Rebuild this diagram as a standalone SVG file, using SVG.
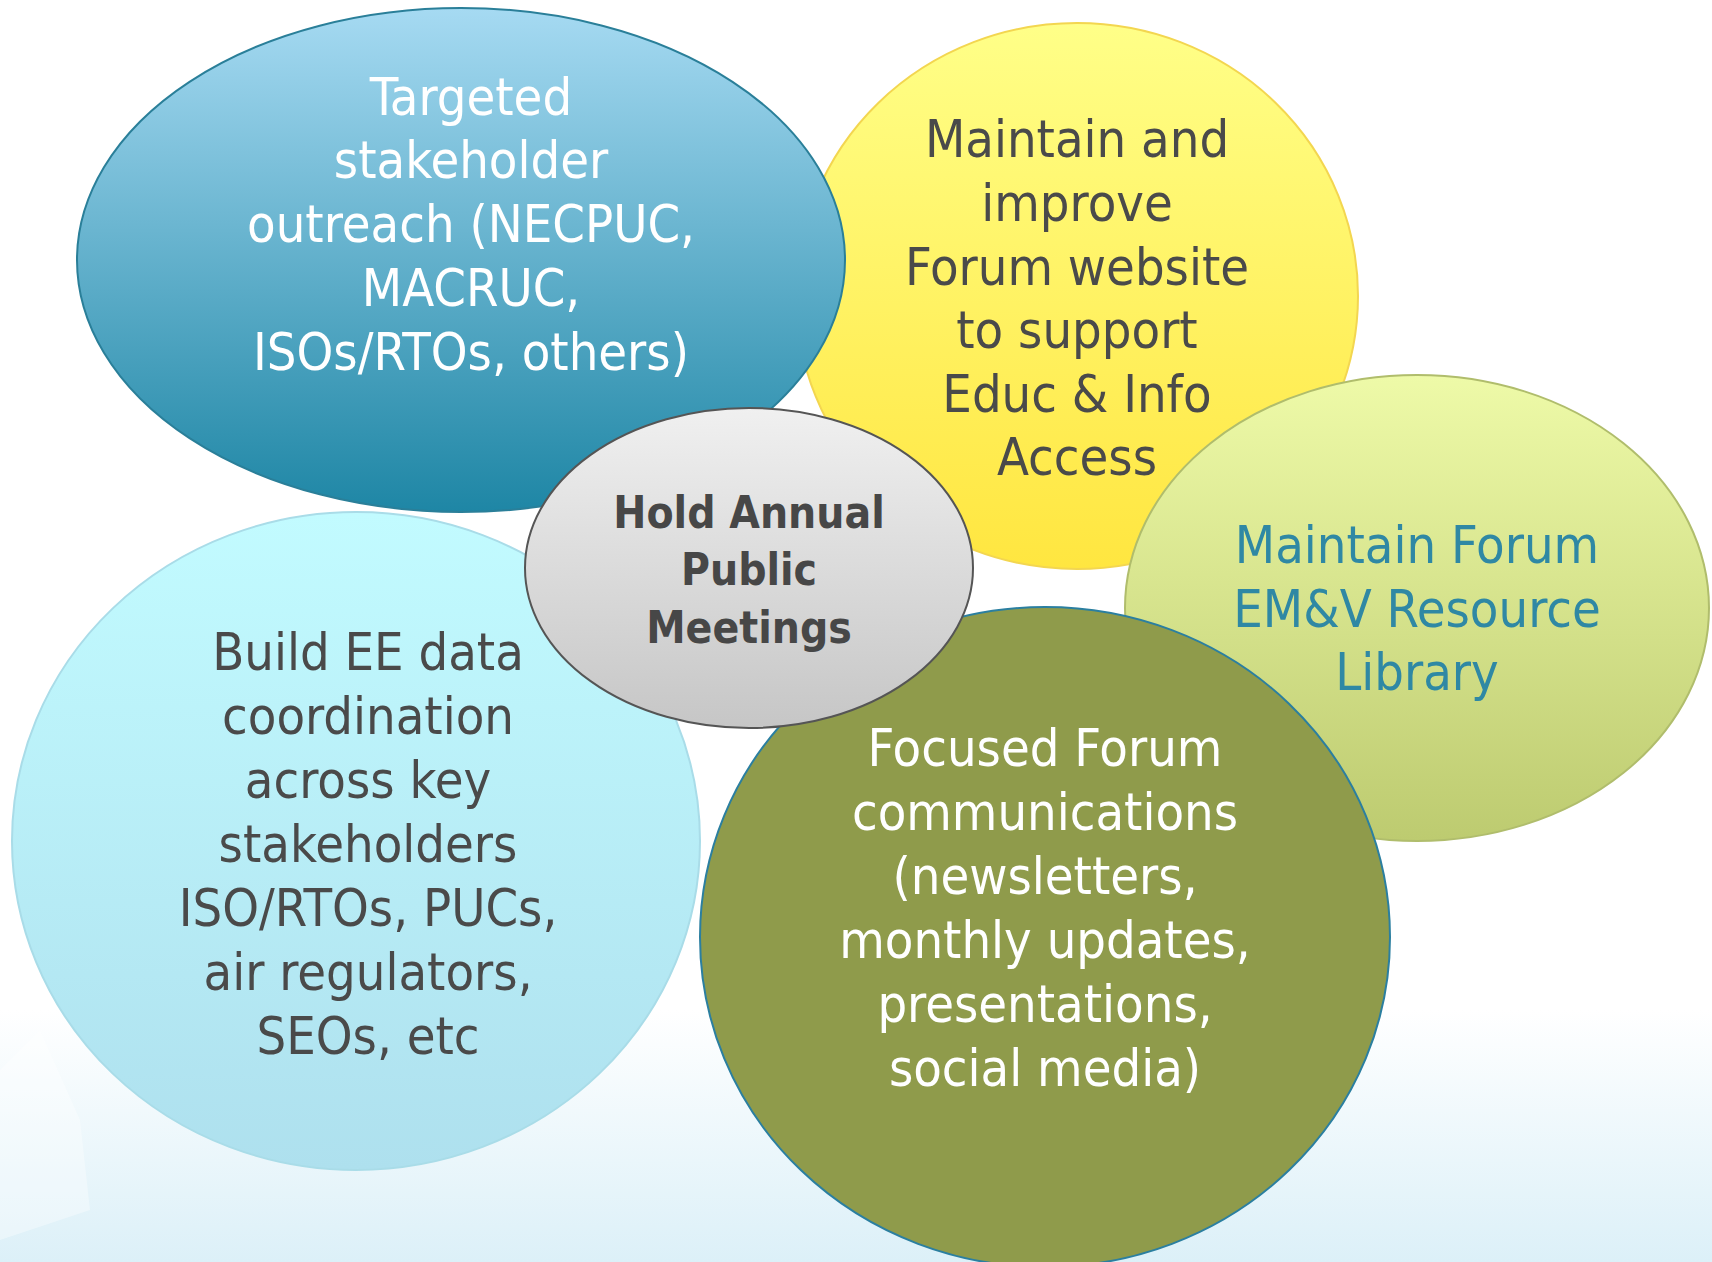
<svg xmlns="http://www.w3.org/2000/svg" width="1712" height="1262" viewBox="0 0 1712 1262">
<defs>
<linearGradient id="bg" x1="0" y1="0" x2="0" y2="1">
<stop offset="0" stop-color="#ffffff"/><stop offset="0.8" stop-color="#ffffff"/><stop offset="1" stop-color="#dcf0f8"/>
</linearGradient>
<linearGradient id="gBlue" x1="0" y1="0" x2="0" y2="1">
<stop offset="0" stop-color="#a6daf2"/><stop offset="1" stop-color="#1e86a5"/>
</linearGradient>
<linearGradient id="gYellow" x1="0" y1="0" x2="0" y2="1">
<stop offset="0" stop-color="#ffff88"/><stop offset="1" stop-color="#ffe640"/>
</linearGradient>
<linearGradient id="gGreen" x1="0" y1="0" x2="0" y2="1">
<stop offset="0" stop-color="#eefaa8"/><stop offset="1" stop-color="#bdcb70"/>
</linearGradient>
<linearGradient id="gCyan" x1="0" y1="0" x2="0" y2="1">
<stop offset="0" stop-color="#c2fbff"/><stop offset="1" stop-color="#aee0ee"/>
</linearGradient>
<linearGradient id="gGray" x1="0" y1="0" x2="0" y2="1">
<stop offset="0" stop-color="#f0f0f0"/><stop offset="1" stop-color="#c6c6c6"/>
</linearGradient>
<style>
text{font-family:"DejaVu Sans Condensed","DejaVu Sans",sans-serif;font-stretch:condensed;font-size:52px;text-anchor:middle}
.w{fill:#ffffff}
.d{fill:#4a4a4a}
.t{fill:#2f88a4}
.b{font-weight:bold;font-size:44px;fill:#474747}
</style>
</defs>
<rect x="0" y="0" width="1712" height="1262" fill="url(#bg)"/>
<path d="M0 1070 L40 1030 L80 1120 L90 1210 L0 1240 Z" fill="#ffffff" opacity="0.35"/>
<g id="node-yellow">
<ellipse cx="1077" cy="296" rx="281" ry="273" fill="url(#gYellow)" stroke="#f3d650" stroke-width="2"/>
<text class="d" x="1077" y="157">Maintain and</text>
<text class="d" x="1077" y="221">improve</text>
<text class="d" x="1077" y="285">Forum website</text>
<text class="d" x="1077" y="348">to support</text>
<text class="d" x="1077" y="412">Educ &amp; Info</text>
<text class="d" x="1077" y="475">Access</text>
</g>
<g id="node-blue">
<ellipse cx="461" cy="260" rx="384" ry="252" fill="url(#gBlue)" stroke="#2a7f99" stroke-width="2"/>
<text class="w" x="471" y="115">Targeted</text>
<text class="w" x="471" y="178">stakeholder</text>
<text class="w" x="471" y="242">outreach (NECPUC,</text>
<text class="w" x="471" y="306">MACRUC,</text>
<text class="w" x="471" y="370">ISOs/RTOs, others)</text>
</g>
<g id="node-green">
<ellipse cx="1417" cy="608" rx="292" ry="233" fill="url(#gGreen)" stroke="#b0bd6c" stroke-width="2"/>
<text class="t" x="1417" y="563">Maintain Forum</text>
<text class="t" x="1417" y="627">EM&amp;V Resource</text>
<text class="t" x="1417" y="690">Library</text>
</g>
<g id="node-cyan">
<ellipse cx="356" cy="841" rx="344" ry="329" fill="url(#gCyan)" stroke="#a9dce8" stroke-width="2"/>
<text class="d" x="368" y="670">Build EE data</text>
<text class="d" x="368" y="734">coordination</text>
<text class="d" x="368" y="798">across key</text>
<text class="d" x="368" y="862">stakeholders</text>
<text class="d" x="368" y="926">ISO/RTOs, PUCs,</text>
<text class="d" x="368" y="990">air regulators,</text>
<text class="d" x="368" y="1054">SEOs, etc</text>
</g>
<g id="node-olive">
<ellipse cx="1045" cy="937" rx="345" ry="330" fill="#8f9b4b" stroke="#2b7fa0" stroke-width="2"/>
<text class="w" x="1045" y="766">Focused Forum</text>
<text class="w" x="1045" y="830">communications</text>
<text class="w" x="1045" y="894">(newsletters,</text>
<text class="w" x="1045" y="958">monthly updates,</text>
<text class="w" x="1045" y="1022">presentations,</text>
<text class="w" x="1045" y="1086">social media)</text>
</g>
<g id="node-center">
<ellipse cx="749" cy="568" rx="224" ry="160" fill="url(#gGray)" stroke="#555555" stroke-width="2"/>
<text class="b" x="749" y="528">Hold Annual</text>
<text class="b" x="749" y="585">Public</text>
<text class="b" x="749" y="643">Meetings</text>
</g>
<g id="connectors"></g>
</svg>
